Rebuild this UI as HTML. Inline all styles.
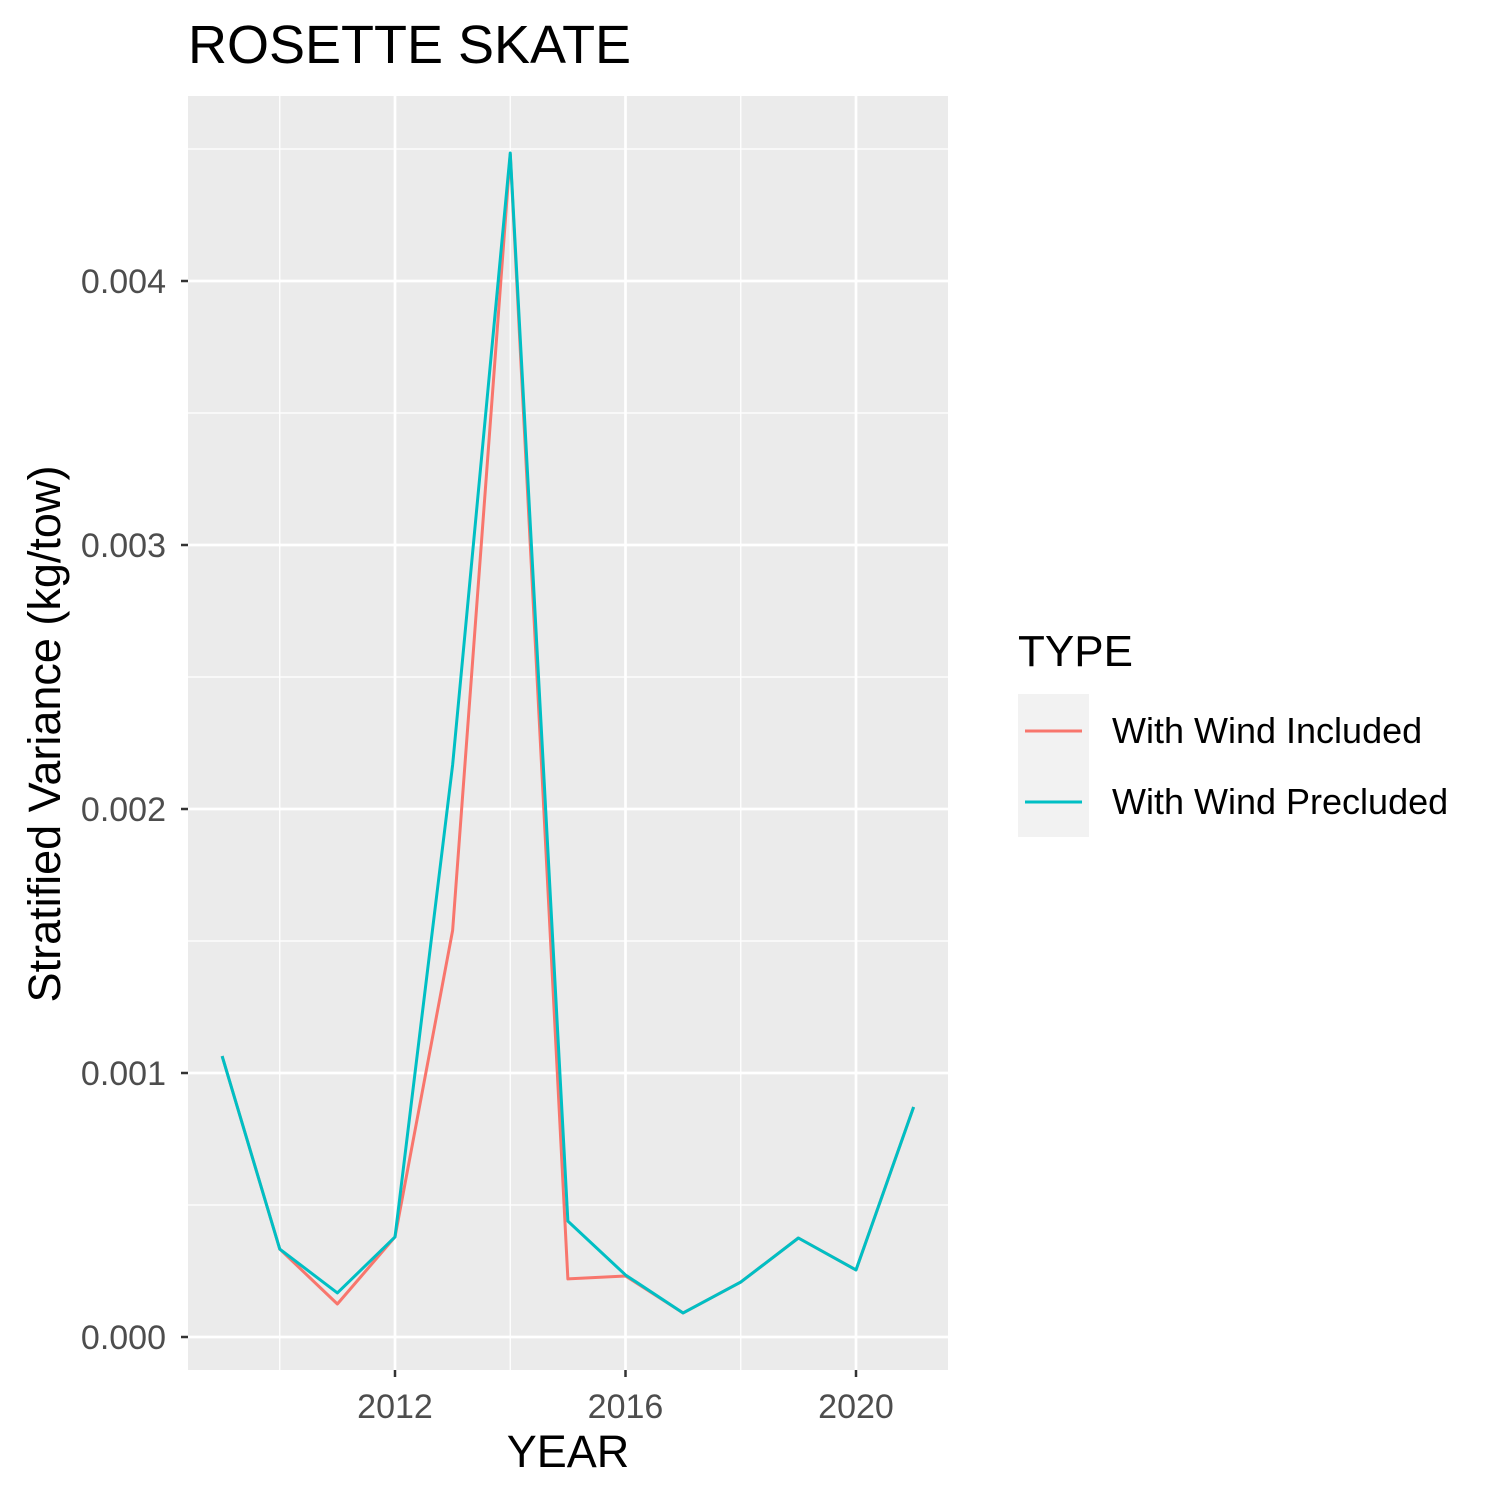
<!DOCTYPE html>
<html><head><meta charset="utf-8"><style>
body{margin:0;background:#fff;}
svg text{font-family:"Liberation Sans",Arial,sans-serif;}
</style></head><body>
<svg id="chart" width="1500" height="1500" viewBox="0 0 1500 1500">
<rect width="1500" height="1500" fill="#fff"/>
<text x="188" y="63" font-size="54" fill="#000">ROSETTE SKATE</text>
<rect x="188" y="96" width="760" height="1274" fill="#ebebeb"/>
<g id="grid"></g>
<g id="lines"></g>
<g id="axes"></g>
<text x="568" y="1467" font-size="45" text-anchor="middle" fill="#000">YEAR</text>
<text transform="translate(60,734) rotate(-90)" font-size="45" text-anchor="middle" fill="#000">Stratified Variance (kg/tow)</text>
<g>
<text x="1018" y="666" font-size="44" fill="#000">TYPE</text>
<rect x="1018" y="694" width="71" height="143" fill="#f2f2f2"/>
<line x1="1025" x2="1082" y1="731" y2="731" stroke="#F8766D" stroke-width="3"/>
<line x1="1025" x2="1082" y1="802" y2="802" stroke="#00BFC4" stroke-width="3"/>
<text x="1112" y="743" font-size="36" fill="#000">With Wind Included</text>
<text x="1112" y="814" font-size="36" fill="#000">With Wind Precluded</text>
</g>
</svg>
<script>
const years=[2009,2010,2011,2012,2013,2014,2015,2016,2017,2018,2019,2020,2021];
const included=[0.001064,0.000333,0.000125,0.000379,0.00154,0.00448,0.00022,0.000231,0.000091,0.000208,0.000375,0.000254,0.000871];
const precluded=[0.001064,0.000333,0.000167,0.000379,0.002167,0.004485,0.000439,0.000235,0.000091,0.000208,0.000375,0.000254,0.000871];
const xTicks=[2012,2016,2020];
const xMinor=[2010,2014,2018];
const yTicks=[0,0.001,0.002,0.003,0.004];
const yTickLabels=["0.000","0.001","0.002","0.003","0.004"];
const yMinor=[0.0005,0.0015,0.0025,0.0035,0.0045];
const NS="http://www.w3.org/2000/svg";
const x=v=>395+(v-2012)*57.625;
const y=v=>1337-v*264000;
function mk(tag,attrs,parent){const e=document.createElementNS(NS,tag);for(const k in attrs)e.setAttribute(k,attrs[k]);parent.appendChild(e);return e;}
const grid=document.getElementById('grid'),axes=document.getElementById('axes'),lines=document.getElementById('lines');
yMinor.forEach(v=>{const l=mk('line',{x1:188,x2:948,y1:y(v),y2:y(v),stroke:'#fff','stroke-width':1.3},grid);

});
xMinor.forEach(v=>{const l=mk('line',{x1:x(v),x2:x(v),y1:96,y2:1370,stroke:'#fff','stroke-width':1.3},grid);

});
yTicks.forEach((v,i)=>{const l=mk('line',{x1:188,x2:948,y1:y(v),y2:y(v),stroke:'#fff','stroke-width':2.7},grid);


const t=mk('line',{x1:181,x2:188,y1:y(v),y2:y(v),stroke:'#333','stroke-width':2.5},axes);


const tx=mk('text',{x:166,y:y(v)+12,'font-size':34,fill:'#4d4d4d','text-anchor':'end'},axes);tx.textContent=yTickLabels[i];

});
xTicks.forEach(v=>{const l=mk('line',{x1:x(v),x2:x(v),y1:96,y2:1370,stroke:'#fff','stroke-width':2.7},grid);


const t=mk('line',{x1:x(v),x2:x(v),y1:1370,y2:1377,stroke:'#333','stroke-width':2.5},axes);


const tx=mk('text',{x:x(v),y:1418,'font-size':34,fill:'#4d4d4d','text-anchor':'middle'},axes);tx.textContent=v;

});
function series(vals,color,name){const p=mk('polyline',{points:years.map((yr,i)=>x(yr)+','+y(vals[i])).join(' '),fill:'none',stroke:color,'stroke-width':3,'stroke-linejoin':'round'},lines);

}
series(included,'#F8766D','line-with-wind-included');
series(precluded,'#00BFC4','line-with-wind-precluded');
</script>
</body></html>
